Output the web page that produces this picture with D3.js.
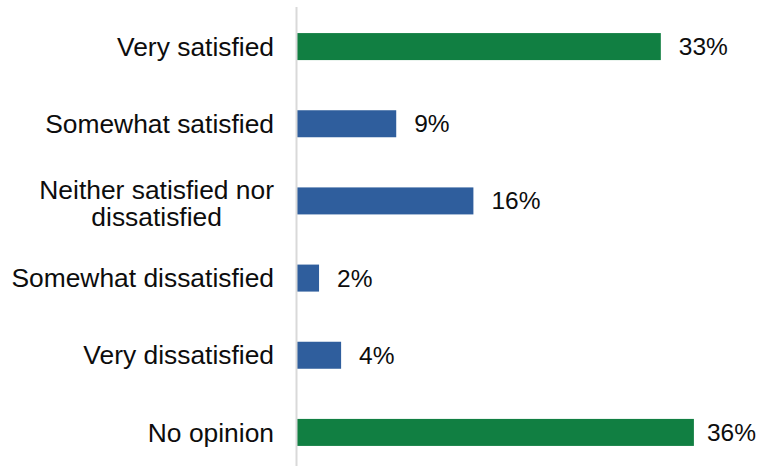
<!DOCTYPE html>
<html>
<head>
<meta charset="utf-8">
<script src="https://cdn.jsdelivr.net/npm/d3@7"></script>
<style>
  body { margin: 0; background: #fff; }
  svg { display: block; }
</style>
</head>
<body>
<div id="chart"></div>
<script>
var categories = [
  'Very satisfied',
  'Somewhat satisfied',
  'Neither satisfied nor dissatisfied',
  'Somewhat dissatisfied',
  'Very dissatisfied',
  'No opinion'
];
// label lines as shown (the long one wraps)
var categoryLines = [
  ['Very satisfied'],
  ['Somewhat satisfied'],
  ['Neither satisfied nor', 'dissatisfied'],
  ['Somewhat dissatisfied'],
  ['Very dissatisfied'],
  ['No opinion']
];
var values = [33, 9, 16, 2, 4, 36];
var highlighted = ['Very satisfied', 'No opinion'];

var width = 761;
var height = 466;
var axisX = 297;
var labelSize = 26.4;
var valueSize = 24.5;
var lineGap = 26.7;

var data = categories.map(function(c, i) {
  return { cat: c, lines: categoryLines[i], value: values[i] };
});

var svg = d3.select('#chart').append('svg')
    .attr('width', width)
    .attr('height', height)
    .attr('font-family', '"Liberation Sans", Arial, sans-serif');

var xScale = d3.scaleLinear()
  .domain([0, 40])
  .range([axisX, axisX + 441]);

var yScale = d3.scaleBand()
  .domain(categories)
  .range([8, 471])
  .paddingInner(0.65)
  .paddingOuter(0.325);

var color = function(d) {
  return highlighted.indexOf(d.cat) != -1 ? '#117f42' : '#2f5e9d';
};

// bars
svg.append('g')
    .attr('class', 'bars')
  .selectAll('rect')
    .data(data)
  .enter().append('rect')
    .attr('x', xScale(0))
    .attr('y', function(d) { return yScale(d.cat); })
    .attr('width', function(d) { return xScale(d.value) - xScale(0); })
    .attr('height', yScale.bandwidth())
    .attr('fill', color);

// vertical axis line
svg.append('line')
    .attr('x1', axisX - 0.5)
    .attr('x2', axisX - 0.5)
    .attr('y1', 7)
    .attr('y2', height)
    .attr('stroke', '#d9d9d9')
    .attr('stroke-width', 2);

// value labels, pulled back in if they would run off the right edge
svg.append('g')
    .attr('class', 'values')
    .attr('font-size', valueSize)
  .selectAll('text')
    .data(data)
  .enter().append('text')
    .attr('y', function(d) { return yScale(d.cat) + yScale.bandwidth() / 2; })
    .attr('dy', '0.35em')
    .attr('fill', '#0d0d0d')
    .text(function(d) { return d.value + '%'; })
    .attr('x', function(d) {
      var w = this.getComputedTextLength();
      return Math.min(xScale(d.value) + 18, width - w - 5);
    });

// category labels: one text per category, a tspan per line
var labels = svg.append('g')
    .attr('class', 'labels')
    .attr('font-size', labelSize)
  .selectAll('text')
    .data(data)
  .enter().append('text')
    .attr('fill', '#0d0d0d')
    .attr('text-anchor', 'middle');

labels.each(function(d) {
  var t = d3.select(this);
  var n = d.lines.length;
  var cy = yScale(d.cat) + yScale.bandwidth() / 2;
  var shift = n > 1 ? 2.5 : 0;
  var spans = t.selectAll('tspan')
      .data(d.lines)
    .enter().append('tspan')
      .attr('y', function(l, i) { return cy + (i - (n - 1) / 2) * lineGap + labelSize * 0.35 + shift; })
      .text(function(l) { return l; });
  // lines centred on each other, block right-aligned to the axis
  var maxW = 0;
  spans.each(function() { maxW = Math.max(maxW, this.getComputedTextLength()); });
  spans.attr('x', axisX - 23 - maxW / 2);
});
</script>
</body>
</html>
